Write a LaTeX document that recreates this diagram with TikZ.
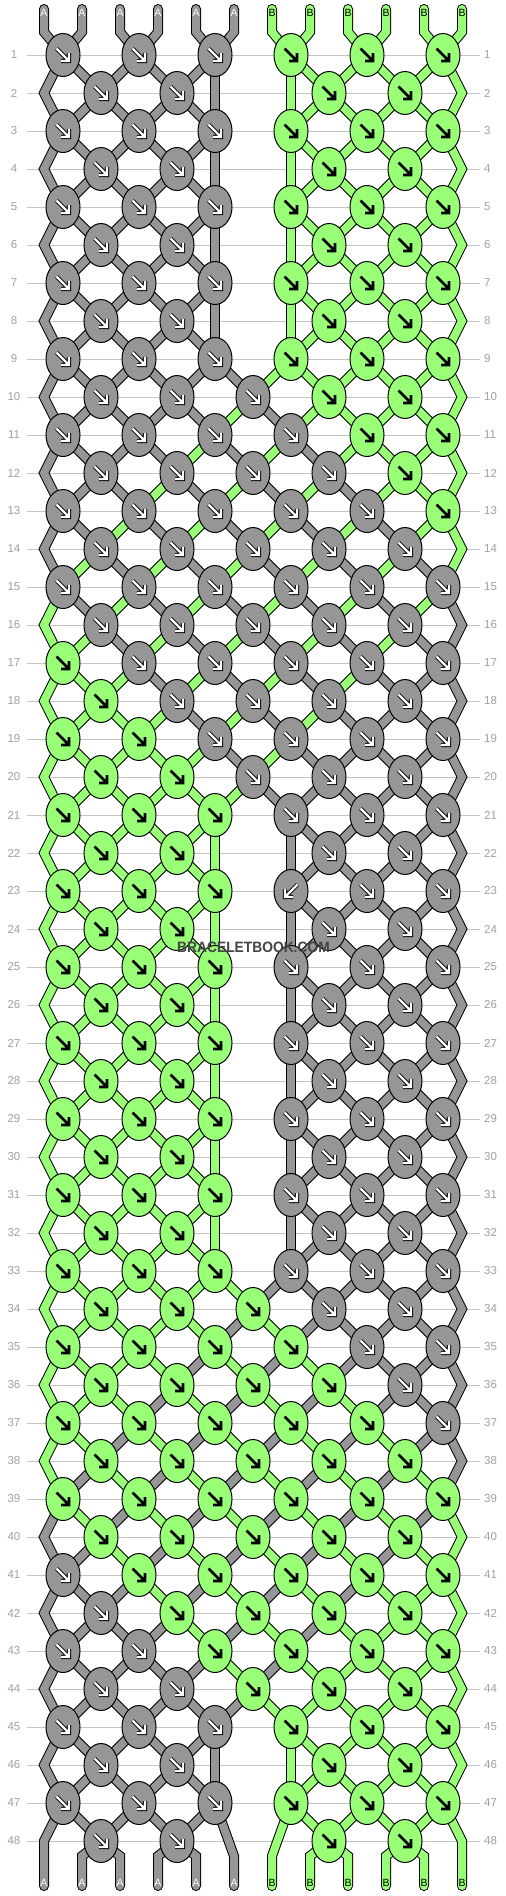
\documentclass[tikz,border=0pt]{standalone}
\usepackage{fontspec}
\setmainfont{Liberation Sans}
\usetikzlibrary{shapes.geometric}
\definecolor{gA}{HTML}{969696}
\definecolor{gB}{HTML}{99FF77}
\definecolor{gridc}{HTML}{C4C4C4}
\definecolor{labc}{HTML}{A0A0A0}
\definecolor{wmc}{HTML}{444444}
\pgfdeclarelayer{gridl}
\pgfdeclarelayer{strl}
\pgfsetlayers{gridl,strl,main}

% colour of string position p before row r (0 = A grey, 1 = B green)
\def\Tbl{{0,0,0,0,0,0,1,1,1,1,1,1,%
0,0,0,0,0,1,0,1,1,1,1,1,%
0,0,0,0,1,0,1,0,1,1,1,1,%
0,0,0,1,0,1,0,1,0,1,1,1,%
0,0,1,0,1,0,1,0,1,0,1,1,%
0,1,0,1,0,1,0,1,0,1,0,1,%
1,0,1,0,1,0,1,0,1,0,1,0,%
1,1,0,1,0,1,0,1,0,1,0,0,%
1,1,1,0,1,0,1,0,1,0,0,0,%
1,1,1,1,0,1,0,1,0,0,0,0,%
1,1,1,1,1,0,1,0,0,0,0,0,%
1,1,1,1,1,1,0,0,0,0,0,0}}

\newcommand\getcol[2]{%
  \pgfmathtruncatemacro\idx{ifthenelse(#1<=10||#1>=45,0,ifthenelse(#1<=20,#1-10,ifthenelse(#1<=34,11,45-#1)))}%
  \pgfmathtruncatemacro\cv{\Tbl[\idx*12+#2-1]}%
  \ifnum\cv=0 \def\cc{gA}\else\def\cc{gB}\fi}

\newif\ifmid
\newcommand\setmid[1]{\midfalse
  \ifnum#1>9 \ifnum#1<21 \midtrue\fi\fi
  \ifnum#1>33 \ifnum#1<45 \midtrue\fi\fi}

\newcommand\setcols[1]{%
  \ifodd#1\relax\def\cols{1,3,5,7,9,11}%
  \else\setmid{#1}\ifmid\def\cols{2,4,6,8,10}\else\def\cols{2,4,8,10}\fi\fi}

\newcommand\kx[1]{(63+38*(#1-1))}
\newcommand\ky[1]{(55+38*(#1-1))}
\newcommand\px[1]{(44+38*(#1-1))}

\newcommand\karrow[3]{%
  \begin{scope}[shift={(#1.center)},xscale=#2]
    \draw[#3] (-6.5,-6.5) -- (5,5) (-2,6) -- (6,6) -- (6,-2);
  \end{scope}}

\newcommand\allstrings{%
 \foreach \r in {1,...,48}{%
  \setcols{\r}%
  \foreach \c in \cols{%
   \pgfmathtruncatemacro\q{\c+1}%
   \foreach \p in {\c,\q}{%
    \getcol{\r}{\p}%
    \ifnum\r=1
      \draw[draw=\cc,seg,line cap=round] (t-\p) -- (tb-\p) -- (k-\r-\c.center);
    \else
      \pgfmathtruncatemacro\rp{\r-1}%
      \pgfmathtruncatemacro\rpp{\r-2}%
      \pgfmathtruncatemacro\sc{mod(\p+\rp,2)==0 ? \p : \p-1}%
      \ifodd\r\relax
        \setmid{\rp}%
        \ifnum\p=1
          \draw[draw=\cc,seg] (k-\rpp-1.center) -- (e-1-\rp) -- (k-\r-\c.center);
        \else\ifnum\p=12
          \draw[draw=\cc,seg] (k-\rpp-11.center) -- (e-12-\rp) -- (k-\r-\c.center);
        \else
          \def\isvert{0}%
          \ifnum\p=6 \ifmid\else\def\isvert{1}\fi\fi
          \ifnum\p=7 \ifmid\else\def\isvert{1}\fi\fi
          \ifnum\isvert=1
            \draw[draw=\cc,seg] (k-\rpp-\c.center) -- (k-\r-\c.center);
          \else
            \draw[draw=\cc,seg] (k-\rp-\sc.center) -- (k-\r-\c.center);
          \fi
        \fi\fi
      \else
        \draw[draw=\cc,seg] (k-\rp-\sc.center) -- (k-\r-\c.center);
      \fi
    \fi
   }%
  }%
 }%
 \foreach \p in {1,...,12}{%
  \getcol{49}{\p}%
  \pgfmathtruncatemacro\sc{mod(\p,2)==0 ? \p : \p-1}%
  \ifnum\p=1 \draw[draw=\cc,seg,line cap=round] (k-47-1.center) -- (e-1-48) -- (be-1);
  \else\ifnum\p=12 \draw[draw=\cc,seg,line cap=round] (k-47-11.center) -- (e-12-48) -- (be-12);
  \else\ifnum\p=6 \draw[draw=\cc,seg,line cap=round] (k-47-5.center) -- (bb-6) -- (be-6);
  \else\ifnum\p=7 \draw[draw=\cc,seg,line cap=round] (k-47-7.center) -- (bb-7) -- (be-7);
  \else \draw[draw=\cc,seg,line cap=round] (k-48-\sc.center) -- (bb-\p) -- (be-\p);
  \fi\fi\fi\fi}%
}

\begin{document}
\begin{tikzpicture}[x=1pt,y=-1pt,
  knot/.style={ellipse,draw=black,line width=1pt,minimum width=34pt,minimum height=43pt,inner sep=0pt},
  awo/.style={line width=4.2pt,black,line join=miter},
  awi/.style={line width=2.2pt,white,line join=miter},
  awb/.style={line width=2.6pt,black,line join=miter},
  rowlab/.style={text=labc,font=\fontsize{11.5}{13}\selectfont,inner sep=0pt},
  endlab/.style={font=\fontsize{10.5}{12}\selectfont,inner sep=0pt},
  gridline/.style={draw=gridc,line width=1pt}]
\useasboundingbox (0,0) rectangle (506,1896);

% string end points and bends
\foreach \p in {1,...,12}{
  \coordinate (t-\p) at ({\px{\p}},9);
  \coordinate (tb-\p) at ({\px{\p}},32);
  \coordinate (bb-\p) at ({\px{\p}},1856);
  \coordinate (be-\p) at ({\px{\p}},1886);
}
\foreach \r in {2,4,...,48}{
  \coordinate (e-1-\r) at ({\px{1}},{\ky{\r}});
  \coordinate (e-12-\r) at ({\px{12}},{\ky{\r}});
}

% knots
\foreach \r in {1,...,48}{
  \setcols{\r}
  \foreach \c in \cols{
    \getcol{\r}{\c}
    \node[knot,fill=\cc] (k-\r-\c) at ({\kx{\c}},{\ky{\r}}) {};
    \def\dir{1}
    \ifnum\r=23 \ifnum\c=7 \def\dir{-1}\fi\fi
    \ifnum\cv=0
      \karrow{k-\r-\c}{\dir}{awo}
      \karrow{k-\r-\c}{\dir}{awi}
    \else
      \karrow{k-\r-\c}{\dir}{awb}
    \fi
  }
}

% strings (outline pass, then colour pass)
\begin{pgfonlayer}{strl}
  \tikzset{seg/.style={line width=10pt,draw=black,line join=miter}}
  \allstrings
  \tikzset{seg/.style={line width=8pt,line join=miter}}
  \allstrings
\end{pgfonlayer}

% grid and row numbers
\begin{pgfonlayer}{gridl}
  \fill[white] (0,0) rectangle (506,1896);
  \foreach \r in {1,...,48}{
    \node[rowlab] (ll-\r) at (14,{\ky{\r}}) {\r};
    \node[rowlab,anchor=west] (rl-\r) at (484,{\ky{\r}}) {\r};
    \draw[gridline] (27,{\ky{\r}}) -- (480,{\ky{\r}});
  }
\end{pgfonlayer}

% string labels
\foreach \p in {1,...,12}{
  \ifnum\p<7 \def\lc{white}\def\lt{A}\else\def\lc{black}\def\lt{B}\fi
  \node[endlab,text=\lc] (tl-\p) at ({\px{\p}},13) {\lt};
  \node[endlab,text=\lc] (bl-\p) at ({\px{\p}},1883) {\lt};
}

% watermark
\node[font=\bfseries\fontsize{15}{18}\selectfont,text=wmc,xscale=0.92,inner sep=0pt] (wm) at (253.5,947.5) {BRACELETBOOK.COM};
\end{tikzpicture}
\end{document}
